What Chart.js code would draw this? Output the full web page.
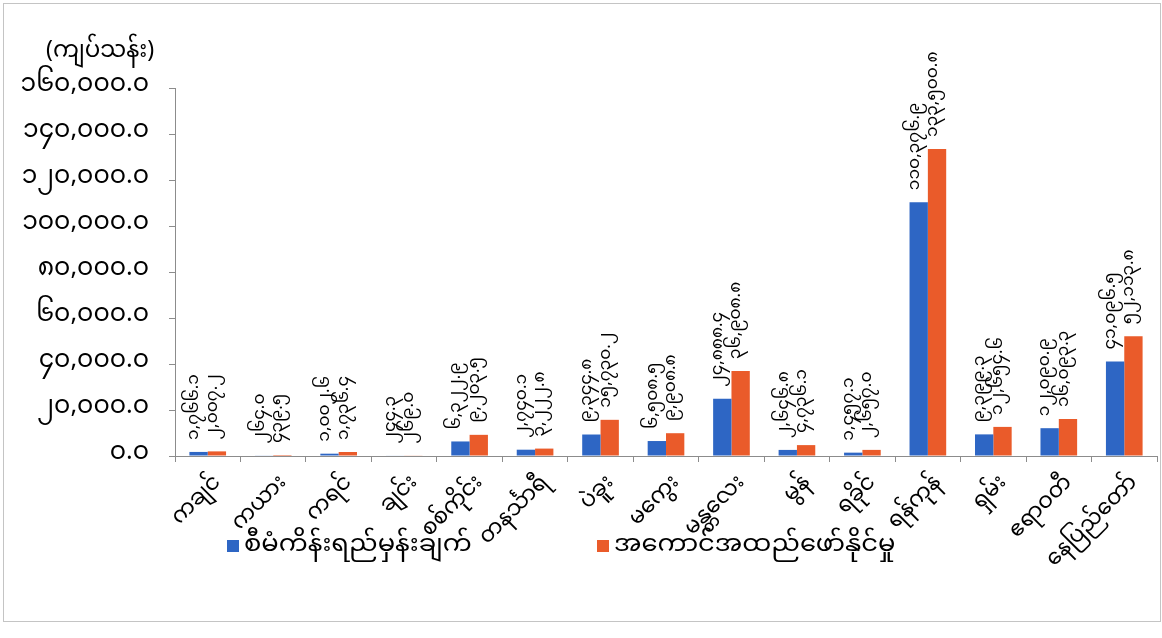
<!DOCTYPE html>
<html>
<head>
<meta charset="utf-8">
<script src="https://cdn.jsdelivr.net/npm/chart.js@4.4.1/dist/chart.umd.min.js"></script>
<style>
  html, body { margin: 0; padding: 0; background: #fff; }
  #wrap { position: relative; width: 1162px; height: 638px; overflow: hidden; background: #fff; }
  #c { position: absolute; left: 0; top: 0; }
  .mm { font-family: 'Noto Sans Myanmar', 'Padauk', 'Myanmar Text', 'Myanmar3', 'Noto Sans', sans-serif; color: #000; }
  #frame { position: absolute; left: 3px; top: 3px; width: 1156px; height: 617px; border: 1px solid #c4c4c4; pointer-events: none; }
  #ytitle { position: absolute; left: 46px; top: 27px; font-size: 23px; white-space: nowrap; }
  .leg { position: absolute; top: 521px; font-size: 23px; white-space: nowrap; display: flex; align-items: center; }
  .sw { display: inline-block; width: 12px; height: 12px; margin-right: 5px; }
  .lt { display: inline-block; transform: scaleX(1.12); transform-origin: left center; }
</style>
</head>
<body>
<div id="wrap">
  <canvas id="c" width="1162" height="638"></canvas>
  <div id="frame"></div>
  <div id="ytitle" class="mm">(ကျပ်သန်း)</div>
  <div class="leg mm" style="left:227px"><span class="sw" style="background:#2E66C4"></span><span class="lt" id="leg0"></span></div>
  <div class="leg mm" style="left:597px"><span class="sw" style="background:#EA5B2A"></span><span class="lt" id="leg1"></span></div>
</div>
<script>
// ---- data ----
const categories = ['ကချင်','ကယား','ကရင်','ချင်း','စစ်ကိုင်း','တနင်္သာရီ','ပဲခူး','မကွေး','မန္တလေး','မွန်','ရခိုင်','ရန်ကုန်','ရှမ်း','ဧရာဝတီ','နေပြည်တော်'];
const seriesNames = ['စီမံကိန်းရည်မှန်းချက်','အကောင်အထည်ဖော်နိုင်မှု'];
const planValues   = [1766.1, 264.0, 1002.6, 244.3, 6322.9, 2740.1, 9344.8, 6508.5, 24888.4, 2646.8, 1457.1, 110376.9, 9399.3, 12090.9, 41096.5];
const actualValues = [2007.2, 439.5, 1736.4, 269.0, 9203.5, 3222.8, 15730.2, 9908.8, 36908.8, 4736.1, 2657.0, 133500.8, 12654.6, 16093.3, 52113.8];
const yTickLabels = ['၀.၀','၂၀,၀၀၀.၀','၄၀,၀၀၀.၀','၆၀,၀၀၀.၀','၈၀,၀၀၀.၀','၁၀၀,၀၀၀.၀','၁၂၀,၀၀၀.၀','၁၄၀,၀၀၀.၀','၁၆၀,၀၀၀.၀'];
const yTitle = '(ကျပ်သန်း)';

const FONT = "'Noto Sans Myanmar', 'Padauk', 'Myanmar Text', 'Myanmar3', 'Noto Sans', sans-serif";
const colors = ['#2E66C4', '#EA5B2A'];

document.getElementById('leg0').textContent = seriesNames[0];
document.getElementById('leg1').textContent = seriesNames[1];
document.getElementById('ytitle').textContent = yTitle;

function toMyanmar(n) {
  const s = n.toLocaleString('en-US', { minimumFractionDigits: 1, maximumFractionDigits: 1 });
  return s.replace(/[0-9]/g, d => String.fromCharCode(0x1040 + Number(d)));
}

const valueLabels = {
  id: 'valueLabels',
  afterDatasetsDraw(chart) {
    const ctx = chart.ctx;
    ctx.save();
    ctx.font = '17px ' + FONT;
    ctx.fillStyle = '#000';
    ctx.textAlign = 'left';
    ctx.textBaseline = 'middle';
    chart.data.datasets.forEach((ds, di) => {
      const meta = chart.getDatasetMeta(di);
      meta.data.forEach((bar, i) => {
        const txt = toMyanmar(ds.data[i]);
        ctx.save();
        ctx.translate(bar.x - 2, bar.y - 12);
        ctx.rotate(-Math.PI / 2);
        ctx.fillText(txt, 0, 0);
        ctx.restore();
      });
    });
    ctx.restore();
  }
};

new Chart(document.getElementById('c'), {
  type: 'bar',
  data: {
    labels: categories,
    datasets: [
      { label: seriesNames[0], data: planValues, backgroundColor: colors[0], borderWidth: 0 },
      { label: seriesNames[1], data: actualValues, backgroundColor: colors[1], borderWidth: 0 }
    ]
  },
  options: {
    responsive: false,
    animation: false,
    devicePixelRatio: 1,
    layout: { padding: { top: 88, right: 5, left: 0, bottom: 0 } },
    datasets: { bar: { categoryPercentage: 0.56, barPercentage: 1.0 } },
    plugins: {
      legend: { display: false },
      tooltip: { enabled: false },
      title: { display: false }
    },
    scales: {
      x: {
        grid: { drawOnChartArea: false, drawTicks: true, tickLength: 6, color: '#8c8c8c', offset: true },
        border: { display: true, color: '#8c8c8c', width: 1 },
        ticks: {
          color: '#000',
          font: { family: FONT, size: 22 },
          maxRotation: 45, minRotation: 45,
          autoSkip: false,
          padding: 10,
          labelOffset: 12
        },
        afterFit(scale) { scale.height = 182; }
      },
      y: {
        min: 0, max: 160000,
        grid: { drawOnChartArea: false, drawTicks: true, tickLength: 6, color: '#8c8c8c' },
        border: { display: true, color: '#8c8c8c', width: 1 },
        ticks: {
          stepSize: 20000,
          color: '#000',
          font: { family: FONT, size: 25 },
          padding: 20,
          callback: (v, i) => yTickLabels[i]
        },
        afterFit(scale) { scale.width = 175; }
      }
    }
  },
  plugins: [valueLabels]
});
</script>
</body>
</html>
